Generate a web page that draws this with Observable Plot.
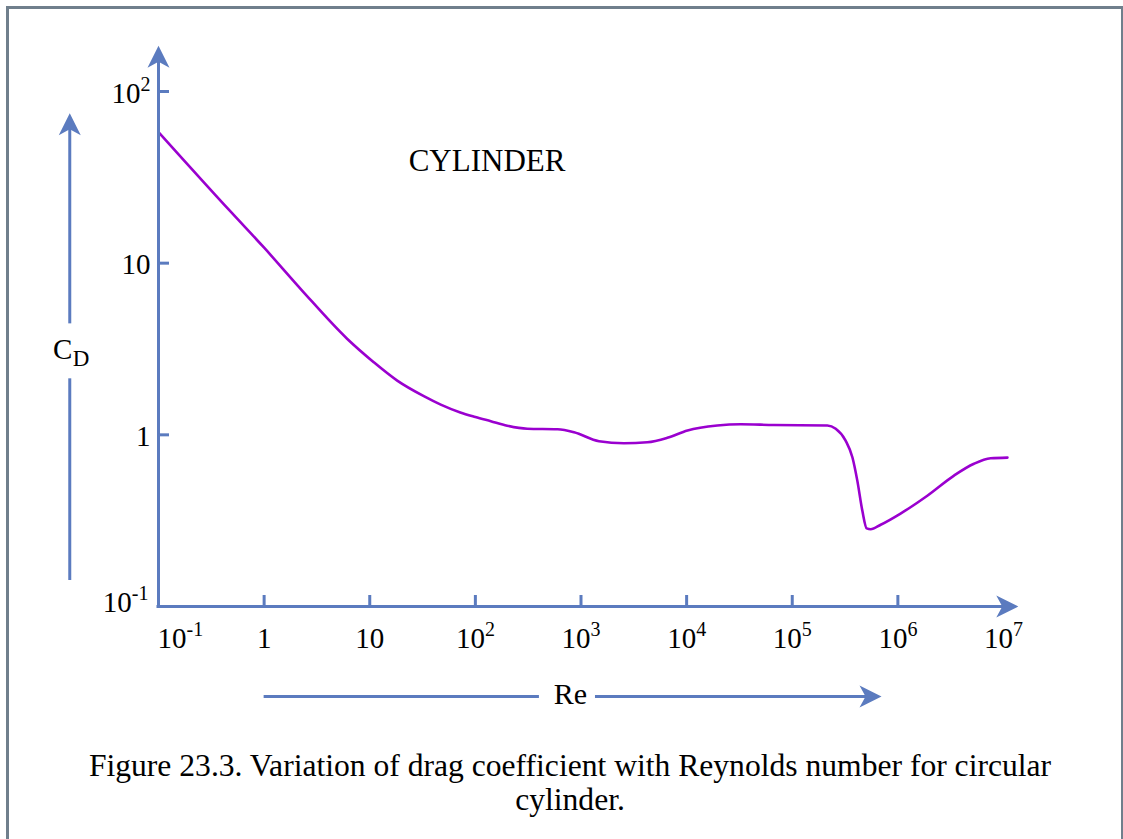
<!DOCTYPE html>
<html>
<head>
<meta charset="utf-8">
<script src="https://cdn.jsdelivr.net/npm/d3@7"></script>
<script src="https://cdn.jsdelivr.net/npm/@observablehq/plot@0.6"></script>
<style>
  html, body { margin: 0; padding: 0; background: #fff; width: 1123px; height: 839px; overflow: hidden; }
  #frame { position: absolute; left: 6px; top: 6px; width: 1118px; height: 900px; box-sizing: border-box;
           border: 3px solid #707f8c; border-bottom: none; }
  #chart { position: absolute; left: 0; top: 0; }
  #caption { position: absolute; left: 0; top: 749px; width: 1140px; text-align: center;
             font-family: "Liberation Serif", "Times New Roman", serif; font-size: 31.6px; line-height: 34px; color: #000; }
</style>
</head>
<body>
<div id="frame"></div>
<div id="chart"></div>
<div id="caption">Figure 23.3. Variation of drag coefficient with Reynolds number for circular<br>cylinder.</div>
<script>
// ---- data ----
const re = [0.1, 0.48, 1, 2.3, 6.1, 10.9, 18.2, 32.5, 47, 72, 100, 140, 200, 310, 600, 860, 1480, 2550, 4250, 6560,
            10200, 19500, 32500, 67000, 2.15e5, 2.58e5, 3.2e5, 3.71e5, 4.13e5, 4.61e5, 5.07e5, 5.52e5, 6.87e5,
            1.06e6, 1.9e6, 3.4e6, 5.25e6, 7.56e6, 1.09e7];
const cd = [58, 20, 12.3, 6.9, 3.63, 2.65, 2.07, 1.68, 1.5, 1.35, 1.27, 1.2, 1.13, 1.085, 1.078, 1.036, 0.918, 0.893, 0.905, 0.961,
            1.06, 1.133, 1.153, 1.14, 1.133, 1.084, 0.926, 0.74, 0.541, 0.361, 0.285, 0.282, 0.2995,
            0.348, 0.442, 0.579, 0.678, 0.73, 0.737];

const xTickValues = [0.1, 1, 10, 100, 1e3, 1e4, 1e5, 1e6, 1e7];
const xLabelBase  = ["10", "1", "10", "10", "10", "10", "10", "10", "10"];
const xLabelSup   = ["-1", "", "", "2", "3", "4", "5", "6", "7"];
const xTickMarks  = [1, 10, 100, 1e3, 1e4, 1e5, 1e6];

const yTickValues = [0.1, 1, 10, 100];
const yLabelBase  = ["10", "1", "10", "10"];
const yLabelSup   = ["-1", "", "", "2"];
const yTickMarks  = [1, 10, 100];

const title = "CYLINDER";
const titleAt = {re: 129, cd: 34.6};
const xName = "Re", yName = "C", yNameSub = "D";

// annotation arrows (in data units of the two log scales)
const yAxisEnd = 158, yAxisTip = 185;         // top of the CD axis
const xAxisEnd = 1.06e7, xAxisTip = 1.38e7;    // right end of the Re axis
const cdArrowRe = 0.01445;
const cdArrowLow = [0.1417, 2.12], cdArrowHigh = [4.43, 63], cdArrowTip = 74.7, cdLabelCd = 2.78;
const reArrowCd = 0.0299;
const reArrowLeft = [1, 404], reArrowRight = [1371, 5.5e5], reArrowTip = 7.0e5, reLabelRe = 794;

// ---- styles ----
const blue = "#5b7bbf";
const purple = "#9a00cf";
const serif = "'Liberation Serif', 'Times New Roman', serif";
const baseSize = 29, supSize = 20;

function arrowSymbol(dir) {
  const [ux, uy] = dir, px = -uy, py = ux;
  const L = 22, Wh = 11, N = 16;
  return {
    draw(ctx) {
      ctx.moveTo(0, 0);
      ctx.lineTo(-L * ux + Wh * px, -L * uy + Wh * py);
      ctx.lineTo(-N * ux, -N * uy);
      ctx.lineTo(-L * ux - Wh * px, -L * uy - Wh * py);
      ctx.closePath();
    }
  };
}
const arrowUp = arrowSymbol([0, -1]);
const arrowRight = arrowSymbol([1, 0]);

function supWidth(s) {
  let w = 0;
  for (const c of s) w += (c === "-" ? 0.333 : 0.5) * supSize;
  return w;
}

const W = 1123, H = 730;
const frameW = W - 158 - 120, frameH = 606 - 91;

const marks = [];

// curve
marks.push(Plot.line(re.map((r, i) => i), {
  x: i => re[i], y: i => cd[i], stroke: purple, strokeWidth: 2.6, curve: "monotone-x"
}));

// axis lines
marks.push(Plot.ruleX([0.1], {y1: 0.1, y2: yAxisEnd, stroke: blue, strokeWidth: 3, strokeLinecap: "square"}));
marks.push(Plot.ruleY([0.1], {x1: 0.1, x2: xAxisEnd, stroke: blue, strokeWidth: 3, strokeLinecap: "square"}));
marks.push(Plot.dot([0], {x: () => 0.1, y: () => yAxisTip, symbol: arrowUp, fill: blue, stroke: "none"}));
marks.push(Plot.dot([0], {x: () => xAxisTip, y: () => 0.1, symbol: arrowRight, fill: blue, stroke: "none"}));

// inward ticks
marks.push(Plot.tickY(yTickMarks, {y: d => d, stroke: blue, strokeWidth: 3, insetRight: frameW - 11}));
marks.push(Plot.tickX(xTickMarks, {x: d => d, stroke: blue, strokeWidth: 3, insetTop: frameH - 11}));

// x tick labels
xTickValues.forEach((v, i) => {
  const base = xLabelBase[i], sup = xLabelSup[i];
  const bw = base.length * 0.5 * baseSize, sw = supWidth(sup);
  const left = i === 0 ? -1 : -(bw + sw) / 2;
  marks.push(Plot.text([v], {x: d => d, y: () => 0.1, text: () => base, textAnchor: "start", lineAnchor: "bottom",
    dx: left, dy: 41, fontSize: baseSize, fontFamily: serif, fill: "#000"}));
  if (sup) marks.push(Plot.text([v], {x: d => d, y: () => 0.1, text: () => sup, textAnchor: "start", lineAnchor: "bottom",
    dx: left + bw, dy: 29.5, fontSize: supSize, fontFamily: serif, fill: "#000"}));
});

// y tick labels
yTickValues.forEach((v, i) => {
  const base = yLabelBase[i], sup = yLabelSup[i];
  const sw = supWidth(sup);
  const right = i === 0 ? -10 : -8;
  const dyBase = i === 0 ? 5.5 : 11;
  marks.push(Plot.text([v], {x: () => 0.1, y: d => d, text: () => base, textAnchor: "end", lineAnchor: "bottom",
    dx: right - sw, dy: dyBase, fontSize: baseSize, fontFamily: serif, fill: "#000"}));
  if (sup) marks.push(Plot.text([v], {x: () => 0.1, y: d => d, text: () => sup, textAnchor: "end", lineAnchor: "bottom",
    dx: right, dy: dyBase - 11.6, fontSize: supSize, fontFamily: serif, fill: "#000"}));
});

// title
marks.push(Plot.text([titleAt], {x: "re", y: "cd", text: () => title, textAnchor: "middle", lineAnchor: "bottom",
  fontSize: 31, fontFamily: serif, fill: "#000"}));

// C_D arrow (left)
[cdArrowLow, cdArrowHigh].forEach(seg => {
  marks.push(Plot.ruleX([cdArrowRe], {y1: seg[0], y2: seg[1], stroke: blue, strokeWidth: 3}));
});
marks.push(Plot.dot([0], {x: () => cdArrowRe, y: () => cdArrowTip, symbol: arrowUp, fill: blue, stroke: "none"}));
marks.push(Plot.text([0], {x: () => cdArrowRe, y: () => cdLabelCd, text: () => yName, textAnchor: "end", lineAnchor: "bottom",
  dx: 2.5, fontSize: 29, fontFamily: serif, fill: "#000"}));
marks.push(Plot.text([0], {x: () => cdArrowRe, y: () => cdLabelCd, text: () => yNameSub, textAnchor: "start", lineAnchor: "bottom",
  dx: 3, dy: 7, fontSize: 23, fontFamily: serif, fill: "#000"}));

// Re arrow (bottom)
[reArrowLeft, reArrowRight].forEach(seg => {
  marks.push(Plot.ruleY([reArrowCd], {x1: seg[0], x2: seg[1], stroke: blue, strokeWidth: 3}));
});
marks.push(Plot.dot([0], {x: () => reArrowTip, y: () => reArrowCd, symbol: arrowRight, fill: blue, stroke: "none"}));
marks.push(Plot.text([0], {x: () => reLabelRe, y: () => reArrowCd, text: () => xName, textAnchor: "middle", lineAnchor: "bottom",
  dy: 7, fontSize: 30, fontFamily: serif, fill: "#000"}));

const chart = Plot.plot({
  width: W, height: H,
  marginLeft: 158, marginRight: 120, marginTop: 91, marginBottom: H - 606,
  x: {type: "log", domain: [0.1, 1e7], axis: null},
  y: {type: "log", domain: [0.1, 100], axis: null},
  style: {fontFamily: serif, background: "transparent", overflow: "visible"},
  marks
});
document.getElementById("chart").appendChild(chart);
</script>
</body>
</html>
